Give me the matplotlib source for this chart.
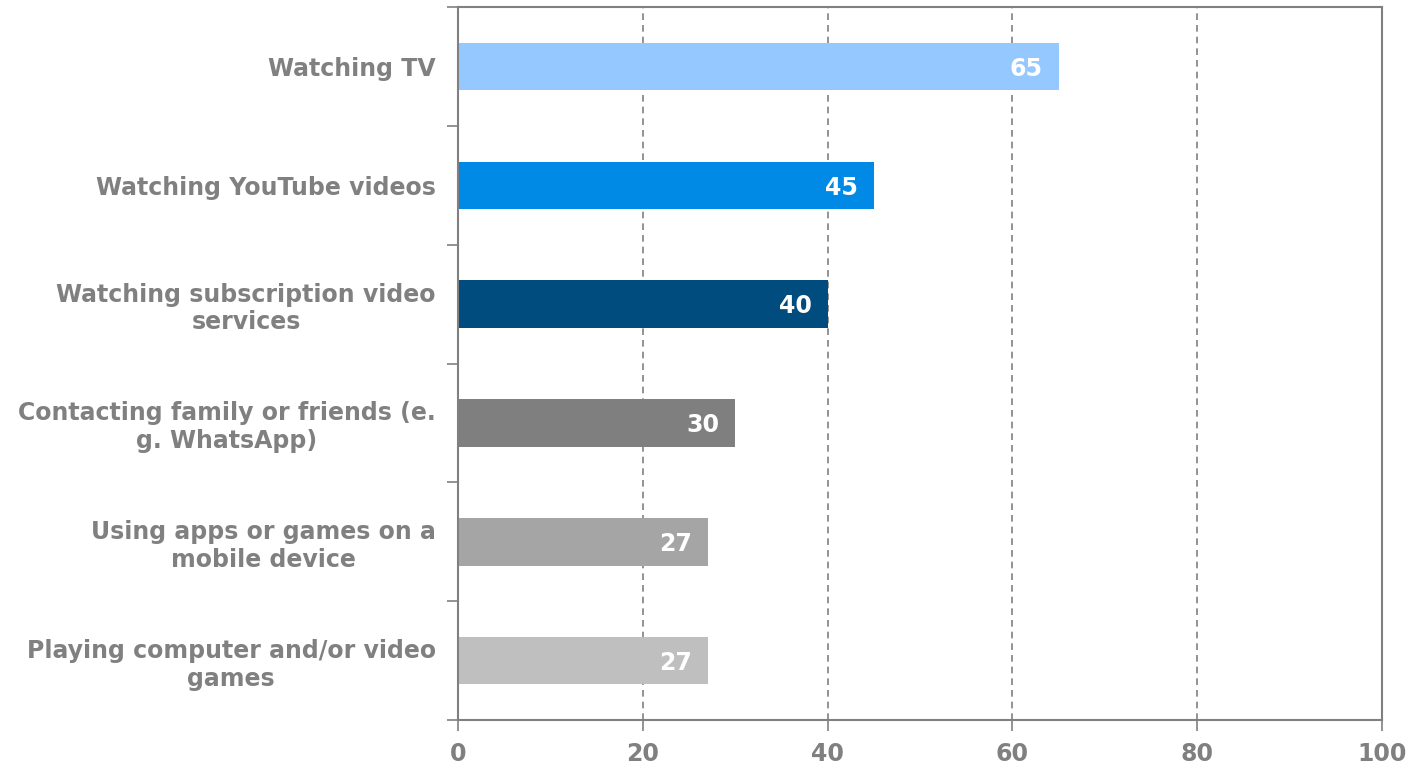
import matplotlib.pyplot as plt

categories = [
    "Watching TV",
    "Watching YouTube videos",
    "Watching subscription video\nservices",
    "Contacting family or friends (e.\ng. WhatsApp)",
    "Using apps or games on a\nmobile device",
    "Playing computer and/or video\ngames",
]
values = [65, 45, 40, 30, 27, 27]
colors = ["#94C8FF", "#008AE6", "#004C7F", "#7F7F7F", "#A5A5A5", "#BFBFBF"]
xticks = [0, 20, 40, 60, 80, 100]

gray = "#808080"
plt.rcParams["font.family"] = "DejaVu Sans"
plt.rcParams["font.weight"] = "bold"

fig = plt.figure(figsize=(14.12, 7.64), dpi=100)
ax = fig.add_axes([0.3244, 0.0576, 0.9788 - 0.3244, 0.9908 - 0.0576])

ypos = list(range(len(categories)))
ax.barh(ypos, values, height=0.4, color=colors, zorder=2)
for y, v in zip(ypos, values):
    ax.text(v - 1.7, y + 0.02, str(v), ha="right", va="center", color="white",
            fontsize=17, fontweight="bold", zorder=3)

ax.set_ylim(len(categories) - 0.5, -0.5)
ax.set_xlim(0, 100)
ax.set_yticks(ypos)
ax.set_yticklabels(categories, fontsize=17, color=gray, fontweight="bold",
                   ha="right", multialignment="center", linespacing=1.2)
ax.tick_params(axis="y", length=0, pad=16)
ax.set_yticks([i - 0.5 for i in range(len(categories) + 1)], minor=True)
ax.tick_params(axis="y", which="minor", length=8, width=1.2, color=gray)

ax.set_xticks(xticks)
ax.set_xticklabels([str(t) for t in xticks], fontsize=17, color=gray,
                   fontweight="bold")
ax.tick_params(axis="x", length=8, width=1.2, color=gray, pad=8)
ax.grid(axis="x", linestyle=(0, (4, 3)), color=gray, linewidth=1.2, zorder=0)

for side in ["left", "bottom", "top", "right"]:
    ax.spines[side].set_color(gray)
    ax.spines[side].set_linewidth(1.5)

fig.savefig("out.png", dpi=100)
